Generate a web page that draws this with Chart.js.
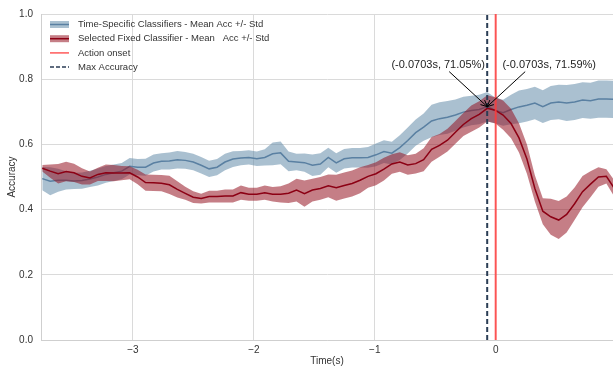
<!DOCTYPE html>
<html>
<head>
<meta charset="utf-8">
<script src="https://cdn.jsdelivr.net/npm/chart.js@4/dist/chart.umd.min.js"></script>
<style>
    html, body { margin: 0; padding: 0; background: #fff; }
    #wrap { width: 613px; height: 367px; }
</style>
</head>
<body>
<div id="wrap"><canvas id="accChart" width="613" height="367"></canvas></div>
<script>
// time grid (s): one sample every ~0.0657 s, peak sample sits at -0.0703 s
const T_PEAK = -0.0703;
const T_STEP = 0.0657;
const N_SAMPLES = 73;
const PEAK_INDEX = 56;
const times = [];
for (let k = 0; k < N_SAMPLES; k++) {
    times.push(+(T_PEAK + (k - PEAK_INDEX) * T_STEP).toFixed(4));
}

// Time-specific classifiers (blue)
const timeSpecMean = [
    0.495, 0.487, 0.490, 0.490, 0.488, 0.489, 0.494, 0.500, 0.508, 0.513,
    0.518, 0.533, 0.530, 0.530, 0.543, 0.548, 0.549, 0.553, 0.551, 0.546,
    0.536, 0.525, 0.530, 0.546, 0.555, 0.558, 0.560, 0.556, 0.560, 0.571,
    0.574, 0.548, 0.546, 0.544, 0.536, 0.540, 0.560, 0.543, 0.556, 0.559,
    0.559, 0.560, 0.568, 0.578, 0.573, 0.590, 0.612, 0.636, 0.653, 0.672,
    0.679, 0.683, 0.690, 0.699, 0.704, 0.707, 0.7159, 0.704, 0.697, 0.707,
    0.715, 0.720, 0.727, 0.716, 0.727, 0.730, 0.727, 0.730, 0.736, 0.734,
    0.739, 0.739, 0.738
];
const timeSpecStd = [
    0.036, 0.043, 0.035, 0.028, 0.025, 0.025, 0.025, 0.026, 0.026, 0.025,
    0.025, 0.025, 0.025, 0.026, 0.026, 0.025, 0.026, 0.027, 0.026, 0.025,
    0.025, 0.025, 0.025, 0.025, 0.024, 0.022, 0.022, 0.022, 0.025, 0.035,
    0.035, 0.030, 0.025, 0.028, 0.033, 0.033, 0.030, 0.030, 0.030, 0.030,
    0.030, 0.032, 0.035, 0.035, 0.035, 0.038, 0.040, 0.040, 0.042, 0.050,
    0.050, 0.050, 0.048, 0.047, 0.045, 0.045, 0.045, 0.040, 0.040, 0.045,
    0.050, 0.050, 0.050, 0.050, 0.052, 0.053, 0.055, 0.055, 0.055, 0.055,
    0.057, 0.057, 0.057
];

// Selected fixed classifier (red)
const fixedMean = [
    0.527, 0.518, 0.510, 0.517, 0.513, 0.502, 0.497, 0.508, 0.513, 0.512,
    0.512, 0.513, 0.500, 0.483, 0.482, 0.481, 0.476, 0.462, 0.450, 0.438,
    0.434, 0.440, 0.440, 0.442, 0.442, 0.452, 0.447, 0.447, 0.452, 0.447,
    0.447, 0.450, 0.460, 0.449, 0.460, 0.465, 0.473, 0.467, 0.474, 0.480,
    0.490, 0.502, 0.510, 0.524, 0.540, 0.546, 0.537, 0.541, 0.553, 0.585,
    0.597, 0.613, 0.637, 0.661, 0.679, 0.692, 0.7105, 0.705, 0.690, 0.664,
    0.620, 0.555, 0.465, 0.395, 0.378, 0.368, 0.385, 0.418, 0.455, 0.478,
    0.500, 0.502, 0.465
];
const fixedStd = [
    0.010, 0.020, 0.030, 0.030, 0.028, 0.025, 0.020, 0.020, 0.025, 0.025,
    0.022, 0.020, 0.022, 0.025, 0.025, 0.025, 0.028, 0.025, 0.020, 0.018,
    0.015, 0.018, 0.018, 0.020, 0.020, 0.022, 0.020, 0.020, 0.022, 0.022,
    0.025, 0.030, 0.035, 0.040, 0.035, 0.035, 0.035, 0.040, 0.040, 0.040,
    0.040, 0.035, 0.035, 0.035, 0.030, 0.030, 0.030, 0.030, 0.035, 0.038,
    0.035, 0.035, 0.035, 0.035, 0.040, 0.040, 0.040, 0.040, 0.045, 0.045,
    0.045, 0.045, 0.040, 0.040, 0.055, 0.058, 0.055, 0.050, 0.048, 0.040,
    0.030, 0.022, 0.025
];

const xTicks = [-3, -2, -1, 0];
const yTicks = [0, 0.2, 0.4, 0.6, 0.8, 1.0];
const ACTION_ONSET = 0;
const maxLabels = ['(-0.0703s, 71.05%)', '(-0.0703s, 71.59%)'];

const FONT = '"Liberation Sans", Arial, sans-serif';
const COLORS = {
    blueLine: '#5a80a2',
    blueBand: 'rgba(100, 140, 170, 0.55)',
    redLine: '#8c0014',
    redBand: 'rgba(150, 20, 35, 0.55)',
    onset: 'rgba(255, 60, 60, 0.85)',
    maxAcc: '#2b3d55',
    grid: '#dadada',
    text: '#333333'
};

// helpers
const toPoints = (ys) => ys.map((y, i) => ({ x: times[i], y: y }));
const band = (mean, std, sign) => toPoints(mean.map((m, i) => m + sign * std[i]));

// legend drawn in the upper-left corner of the plot (no frame, like seaborn)
const cornerLegend = {
    id: 'cornerLegend',
    afterDraw(chart) {
        const ctx = chart.ctx;
        const x0 = chart.chartArea.left + 9;
        const y0 = chart.chartArea.top + 10.5;
        const rows = [
            { text: 'Time-Specific Classifiers - Mean Acc +/- Std', fill: COLORS.blueBand, line: COLORS.blueLine },
            { text: 'Selected Fixed Classifier - Mean   Acc +/- Std', fill: COLORS.redBand, line: COLORS.redLine },
            { text: 'Action onset', line: COLORS.onset },
            { text: 'Max Accuracy', line: COLORS.maxAcc, dash: [4, 2] }
        ];
        ctx.save();
        ctx.font = '9.5px ' + FONT;
        ctx.textBaseline = 'middle';
        rows.forEach((r, i) => {
            const y = y0 + i * 14.2;
            if (r.fill) {
                ctx.fillStyle = r.fill;
                ctx.fillRect(x0, y - 3.5, 19, 7);
            }
            ctx.strokeStyle = r.line;
            ctx.lineWidth = 1.5;
            ctx.setLineDash(r.dash || []);
            ctx.beginPath();
            ctx.moveTo(x0, y);
            ctx.lineTo(x0 + 19, y);
            ctx.stroke();
            ctx.setLineDash([]);
            ctx.fillStyle = COLORS.text;
            ctx.fillText(r.text, x0 + 28, y);
        });
        ctx.restore();
    }
};

// arrows + labels pointing at the max accuracy sample
const maxAnnotation = {
    id: 'maxAnnotation',
    afterDatasetsDraw(chart) {
        const ctx = chart.ctx;
        const px = chart.scales.x.getPixelForValue(times[PEAK_INDEX]);
        const py = chart.scales.y.getPixelForValue(timeSpecMean[PEAK_INDEX]);
        const notes = [
            { text: maxLabels[0], tx: -49, ty: -42, ax: -38, ay: -35 },
            { text: maxLabels[1], tx: 62, ty: -42, ax: 38, ay: -35 }
        ];
        ctx.save();
        ctx.strokeStyle = '#000';
        ctx.lineWidth = 1;
        notes.forEach(n => {
            const sx = px + n.ax, sy = py + n.ay;
            ctx.beginPath();
            ctx.moveTo(sx, sy);
            ctx.lineTo(px, py);
            ctx.stroke();
            // open arrow head
            const ang = Math.atan2(py - sy, px - sx);
            const len = 7, spread = 0.45;
            ctx.beginPath();
            ctx.moveTo(px - len * Math.cos(ang - spread), py - len * Math.sin(ang - spread));
            ctx.lineTo(px, py);
            ctx.lineTo(px - len * Math.cos(ang + spread), py - len * Math.sin(ang + spread));
            ctx.stroke();
            ctx.font = '11px ' + FONT;
            ctx.fillStyle = '#222';
            ctx.textAlign = 'center';
            ctx.textBaseline = 'middle';
            ctx.fillText(n.text, px + n.tx, py + n.ty);
        });
        ctx.restore();
    }
};

const ctx = document.getElementById('accChart').getContext('2d');
new Chart(ctx, {
    type: 'line',
    data: {
        datasets: [
            { data: band(timeSpecMean, timeSpecStd, 1), borderWidth: 0, backgroundColor: COLORS.blueBand, fill: 1, order: 6 },
            { data: band(timeSpecMean, timeSpecStd, -1), borderWidth: 0, fill: false, order: 6 },
            { data: toPoints(timeSpecMean), borderColor: COLORS.blueLine, borderWidth: 1.5, fill: false, order: 5 },
            { data: band(fixedMean, fixedStd, 1), borderWidth: 0, backgroundColor: COLORS.redBand, fill: 4, order: 4 },
            { data: band(fixedMean, fixedStd, -1), borderWidth: 0, fill: false, order: 4 },
            { data: toPoints(fixedMean), borderColor: COLORS.redLine, borderWidth: 1.5, fill: false, order: 3 },
            { data: [{ x: ACTION_ONSET, y: 0 }, { x: ACTION_ONSET, y: 1 }], borderColor: COLORS.onset, borderWidth: 2, fill: false, order: 2 },
            { data: [{ x: times[PEAK_INDEX], y: 0 }, { x: times[PEAK_INDEX], y: 1 }], borderColor: COLORS.maxAcc, borderWidth: 2, borderDash: [5, 3], fill: false, order: 1 }
        ]
    },
    options: {
        responsive: false,
        animation: false,
        events: [],
        layout: { padding: { top: 8, right: 0, left: 0, bottom: 0 } },
        elements: { point: { radius: 0 }, line: { tension: 0 } },
        plugins: {
            legend: { display: false },
            tooltip: { enabled: false }
        },
        scales: {
            x: {
                type: 'linear',
                min: -3.76,
                max: 0.97,
                afterBuildTicks: s => { s.ticks = xTicks.map(v => ({ value: v })); },
                afterFit: s => { s.height = 27; },
                ticks: {
                    padding: 4,
                    color: COLORS.text,
                    font: { family: FONT, size: 10 },
                    callback: v => (v < 0 ? '\u2212' + Math.abs(v) : String(v))
                },
                grid: { color: COLORS.grid, drawTicks: false },
                border: { color: '#cfcfcf' },
                title: { display: true, text: 'Time(s)', color: COLORS.text, font: { family: FONT, size: 10 }, padding: { top: -3, bottom: 0 } }
            },
            y: {
                min: 0,
                max: 1,
                afterBuildTicks: s => { s.ticks = yTicks.map(v => ({ value: v })); },
                afterFit: s => { s.width = 41; },
                ticks: {
                    padding: 8,
                    color: COLORS.text,
                    font: { family: FONT, size: 10 },
                    callback: v => v.toFixed(1)
                },
                grid: { color: COLORS.grid, drawTicks: false },
                border: { color: '#cfcfcf' },
                title: { display: true, text: 'Accuracy', color: COLORS.text, font: { family: FONT, size: 10 }, padding: { top: 6, bottom: 0 } }
            }
        }
    },
    plugins: [cornerLegend, maxAnnotation]
});
</script>
</body>
</html>
